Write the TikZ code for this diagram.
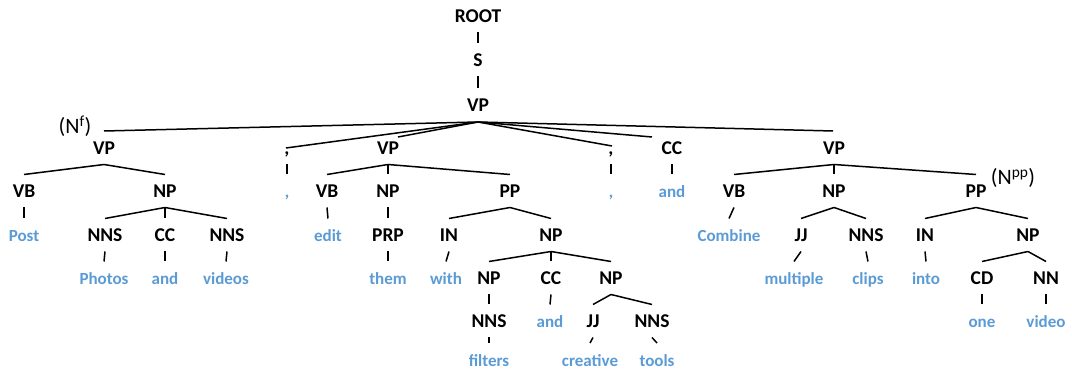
\documentclass[tikz,border=0pt]{standalone}
\usepackage{fontspec}
\setmainfont{Carlito}
\usetikzlibrary{calc}
\definecolor{wordblue}{HTML}{5B9BD5}
\tikzset{
  lab/.style={anchor=base, inner sep=0pt, font=\fontsize{19.5}{20}\selectfont\bfseries},
  word/.style={anchor=base, inner sep=0pt, text=wordblue, font=\fontsize{17}{18}\selectfont\bfseries},
  note/.style={anchor=base, inner sep=0pt, font=\fontsize{22}{24}\selectfont},
  branch/.style={line width=1.5pt},
}
% tree edge: from just below the parent label to just above the child label
\newcommand\tedge[2]{\draw[branch] ($(#1.base)+(0,9.5)$) -- ($(#2.base)+(0,-23.5)$);}
\begin{document}
\begin{tikzpicture}[x=1pt, y=-1pt]
\useasboundingbox (0,0) rectangle (1072,371);

% spine
\node[lab] (root) at (478,23) {ROOT};
\node[lab] (s)    at (478,67) {S};
\node[lab] (vp)   at (478,112) {VP};

% level under the top VP
\node[lab] (vpA) at (104,155) {VP};
\node[lab] (cmA) at (287,155) {,};
\node[lab] (vpB) at (388,155) {VP};
\node[lab] (cmB) at (611,155) {,};
\node[lab] (ccA) at (672,155) {CC};
\node[lab] (vpC) at (834,155) {VP};

% row 4
\node[lab]  (vbA)  at (24,198)  {VB};
\node[lab]  (npA)  at (165,198) {NP};
\node[word] (wcmA) at (287,198) {,};
\node[lab]  (vbB)  at (327,198) {VB};
\node[lab]  (npB)  at (388,198) {NP};
\node[lab]  (ppB)  at (510,198) {PP};
\node[word] (wcmB) at (611,198) {,};
\node[word] (wand) at (672,198) {and};
\node[lab]  (vbC)  at (734,198) {VB};
\node[lab]  (npC)  at (834,198) {NP};
\node[lab]  (ppC)  at (976,198) {PP};

% row 5
\node[word] (wPost)    at (24,242)   {Post};
\node[lab]  (nnsA)     at (105,242)  {NNS};
\node[lab]  (ccB)      at (165,242)  {CC};
\node[lab]  (nnsB)     at (227,242)  {NNS};
\node[word] (wedit)    at (328,242)  {edit};
\node[lab]  (prp)      at (388,242)  {PRP};
\node[lab]  (inB)      at (449,242)  {IN};
\node[lab]  (npD)      at (551,242)  {NP};
\node[word] (wCombine) at (729,242)  {Combine};
\node[lab]  (jjA)      at (801,242)  {JJ};
\node[lab]  (nnsC)     at (866,242)  {NNS};
\node[lab]  (inC)      at (925,242)  {IN};
\node[lab]  (npE)      at (1028,242) {NP};

% row 6
\node[word] (wPhotos)   at (104,285)  {Photos};
\node[word] (wand2)     at (165,285)  {and};
\node[word] (wvideos)   at (226,285)  {videos};
\node[word] (wthem)     at (388,285)  {them};
\node[word] (wwith)     at (446,285)  {with};
\node[lab]  (npF)       at (489,285)  {NP};
\node[lab]  (ccC)       at (551,285)  {CC};
\node[lab]  (npG)       at (611,285)  {NP};
\node[word] (wmultiple) at (794,285)  {multiple};
\node[word] (wclips)    at (868,285)  {clips};
\node[word] (winto)     at (926,285)  {into};
\node[lab]  (cd)        at (982,285)  {CD};
\node[lab]  (nn)        at (1046,285) {NN};

% row 7
\node[lab]  (nnsD)   at (489,328)  {NNS};
\node[word] (wand3)  at (550,328)  {and};
\node[lab]  (jjB)    at (593,328)  {JJ};
\node[lab]  (nnsE)   at (652,328)  {NNS};
\node[word] (wone)   at (982,328)  {one};
\node[word] (wvideo) at (1046,328) {video};

% row 8
\node[word] (wfilters)  at (489,366.5) {filters};
\node[word] (wcreative) at (590,366.5) {creative};
\node[word] (wtools)    at (657,366.5) {tools};

% annotations
\node[note] (nf)  at (75,134)   {(N\textsuperscript{f})};
\node[note] (npp) at (1013,185) {(N\textsuperscript{pp})};

% edges of the top VP
\coordinate (vpfork) at ($(vp.base)+(0,10)$);
\draw[branch] (vpfork) -- ($(vpA.base)+(0,-24)$);
\draw[branch] (vpfork) -- ($(cmA.base)+(-1,-7)$);
\draw[branch] (vpfork) -- ($(vpB.base)+(10,-18)$);
\draw[branch] (vpfork) -- ($(cmB.base)+(1,-9)$);
\draw[branch] (vpfork) -- ($(ccA.base)+(-20,-18)$);
\draw[branch] (vpfork) -- ($(vpC.base)+(-1,-24)$);

% all other edges
\foreach \p/\c in {root/s, s/vp,
  vpA/vbA, vpA/npA, vbA/wPost, npA/nnsA, npA/ccB, npA/nnsB,
  nnsA/wPhotos, ccB/wand2, nnsB/wvideos,
  cmA/wcmA,
  vpB/vbB, vpB/npB, vpB/ppB, vbB/wedit, npB/prp, prp/wthem,
  ppB/inB, ppB/npD, inB/wwith, npD/npF, npD/ccC, npD/npG,
  npF/nnsD, nnsD/wfilters, ccC/wand3, npG/jjB, npG/nnsE,
  jjB/wcreative, nnsE/wtools,
  cmB/wcmB, ccA/wand,
  vpC/vbC, vpC/npC, vpC/ppC, vbC/wCombine, npC/jjA, npC/nnsC,
  jjA/wmultiple, nnsC/wclips, ppC/inC, ppC/npE, inC/winto,
  npE/cd, npE/nn, cd/wone, nn/wvideo}
  {\tedge{\p}{\c}}
\end{tikzpicture}
\end{document}
